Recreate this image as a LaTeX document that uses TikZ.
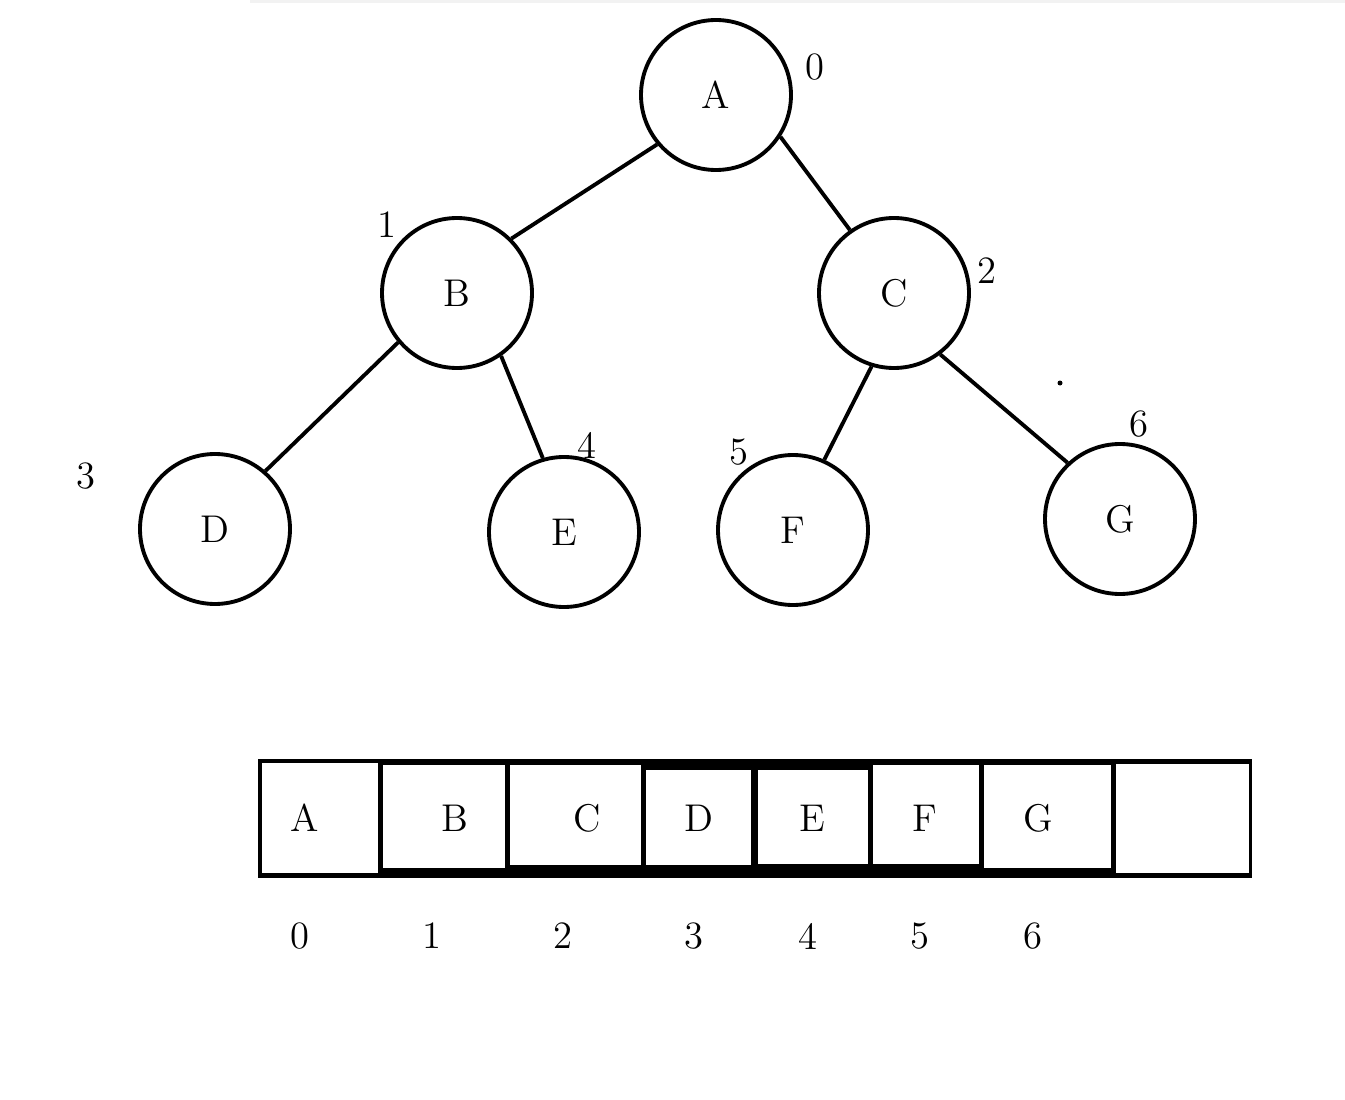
\documentclass[tikz,border=0pt]{standalone}
\usetikzlibrary{positioning}
\tikzstyle{treenode}=[shape=circle,minimum size=1.5cm,inner sep=0,line width=1.1pt,draw,font=\fontsize{11}{13}\selectfont]
\tikzstyle{edge}=[line width=1.1pt]
\tikzstyle{idx}=[inner sep=0,font=\fontsize{11}{13}\selectfont]
\begin{document}
\begin{tikzpicture}
\useasboundingbox (0,0) rectangle (13.45,-11);
\fill[black!5] (2.5,0) rectangle (13.45,-0.03);

% the tree
\node[treenode] (A) at (7.16,-0.95) {A};
\node[treenode] (B) at (4.57,-2.93) {B};
\node[treenode] (C) at (8.94,-2.93) {C};
\node[treenode] (D) at (2.15,-5.29) {D};
\node[treenode] (E) at (5.64,-5.32) {E};
\node[treenode] (F) at (7.93,-5.30) {F};
\node[treenode] (G) at (11.20,-5.19) {G};

\draw[edge] (A.220)--(B.45);
\draw[edge] (A.327)--(C.125);
\draw[edge] (B.220)--(D.49);
\draw[edge] (B.305)--(E.106);
\draw[edge] (C.253)--(F.66);
\draw[edge] (C.307)--(G.133);

% index of each tree node
\node[idx] (l0) at (8.15,-0.67) {0};
\node[idx] (l1) at (3.87,-2.25) {1};
\node[idx] (l2) at (9.87,-2.71) {2};
\node[idx] (l3) at (0.86,-4.76) {3};
\node[idx] (l4) at (5.87,-4.45) {4};
\node[idx] (l5) at (7.39,-4.52) {5};
\node[idx] (l6) at (11.39,-4.24) {6};
\fill (10.60,-3.83) circle (0.025);

% the array
\fill (2.58,-7.59) rectangle (12.52,-8.78);
\foreach \l/\r/\t/\b in {2.62/3.78/7.63/8.73,3.83/5.05/7.65/8.68,5.10/6.41/7.65/8.65,
	6.46/7.51/7.70/8.65,7.58/8.68/7.70/8.64,8.73/9.79/7.65/8.64,
	9.84/11.11/7.65/8.68,11.16/12.49/7.64/8.73}{
	\fill[white] (\l,-\t) rectangle (\r,-\b);}
\foreach \v/\x [count=\i from 0] in {A/3.05,B/4.55,C/5.87,D/6.99,E/8.12,F/9.25,G/10.38}{
	\node[idx] (v\i) at (\x,-8.18) {\v};
	}
\foreach \x [count=\i from 0] in {3.00,4.32,5.63,6.94,8.08,9.20,10.33}{
	\node[idx] (n\i) at (\x,-9.36) {\i};
	}
\end{tikzpicture}
\end{document}
